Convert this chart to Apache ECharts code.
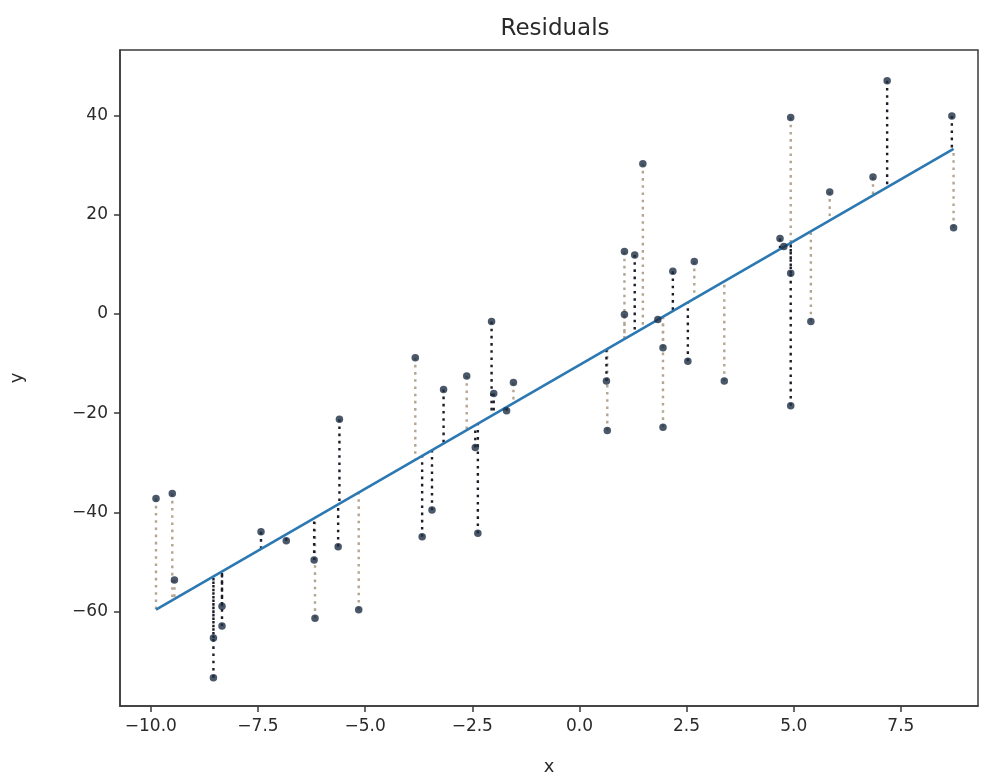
<!DOCTYPE html>
<html>
<head>
<meta charset="utf-8">
<script src="https://cdn.jsdelivr.net/npm/echarts@6/dist/echarts.min.js"></script>
<style>
html,body{margin:0;padding:0;background:#ffffff;}
#chart{width:984px;height:781px;}
</style>
</head>
<body>
<div id="chart"></div>
<script>
// Points whose residual line is drawn dark
const setAX = [-8.34, -8.34, -8.54, -8.54, -7.43, -6.84, -6.19, -5.60, -5.63, -3.67, -3.17, -3.44, -2.43, -2.37, -2.05, -2.00, -1.70, 0.63, 1.29, 1.83, 2.18, 2.53, 4.68, 4.77, 4.93, 4.93, 7.18, 8.69];
const setAY = [-58.9, -62.9, -65.3, -73.3, -43.9, -45.7, -49.6, -21.2, -46.9, -44.9, -15.2, -39.5, -26.9, -44.2, -1.5, -16.0, -19.5, -13.5, 11.9, -1.1, 8.6, -9.5, 15.2, 13.6, 8.2, -18.5, 47.0, 39.9];
// Points whose residual line is drawn light
const setBX = [-9.88, -9.50, -9.45, -6.17, -5.15, -3.83, -2.63, -1.54, 0.65, 1.05, 1.05, 1.48, 1.95, 1.95, 2.68, 3.38, 4.93, 5.40, 5.84, 6.85, 8.73];
const setBY = [-37.2, -36.2, -53.6, -61.3, -59.6, -8.8, -12.5, -13.8, -23.5, 12.6, -0.1, 30.3, -6.8, -22.8, 10.6, -13.5, 39.6, -1.5, 24.6, 27.6, 17.4];

// Fitted regression line
const fitSlope = 4.99;
const fitIntercept = -10.3;
const fitRangeX = [-9.88, 8.73];

const xTicks = [-10, -7.5, -5, -2.5, 0, 2.5, 5, 7.5];
const yTicks = [-60, -40, -20, 0, 20, 40];

const FONT = 'DejaVu Sans';
const AXIS_COLOR = '#3a3a3a';
const TEXT_COLOR = '#2a2a2a';

function pairs(xs, ys) { return xs.map((x, i) => [x, ys[i]]); }
function fitted(x) { return fitIntercept + fitSlope * x; }

function residualRender(color) {
  return function (params, api) {
    const x = api.value(0), y = api.value(1);
    const p1 = api.coord([x, y]);
    const p2 = api.coord([x, fitted(x)]);
    return {
      type: 'line',
      shape: { x1: p1[0], y1: p1[1], x2: p2[0], y2: p2[1] },
      style: { stroke: color, lineWidth: 2.4, lineDash: [2.6, 4.6], fill: null }
    };
  };
}

function fmtMinus(v, digits) {
  const s = digits == null ? String(v) : v.toFixed(digits);
  return s.replace('-', '\u2212');
}

const chart = echarts.init(document.getElementById('chart'), null, { renderer: 'canvas' });
chart.setOption({
  animation: false,
  backgroundColor: '#ffffff',
  title: {
    text: 'Residuals',
    left: 550,
    top: 13,
    textAlign: 'center',
    textStyle: { fontFamily: FONT, fontSize: 23, fontWeight: 'normal', color: TEXT_COLOR }
  },
  grid: {
    left: 117, right: 6, top: 50, bottom: 71,
    show: true, borderColor: AXIS_COLOR, borderWidth: 1.5, backgroundColor: 'transparent'
  },
  xAxis: {
    type: 'value',
    min: -10.72, max: 9.3,
    name: 'x', nameLocation: 'middle', nameGap: 52,
    nameTextStyle: { fontFamily: FONT, fontSize: 18, color: TEXT_COLOR },
    splitLine: { show: false },
    axisLine: { show: true, onZero: false, lineStyle: { color: AXIS_COLOR, width: 1.5 } },
    axisTick: { show: true, customValues: xTicks, length: 6, lineStyle: { color: AXIS_COLOR, width: 1.5 } },
    axisLabel: { customValues: xTicks, formatter: v => fmtMinus(v, 1), fontFamily: FONT, fontSize: 17, color: TEXT_COLOR, margin: 12 }
  },
  yAxis: {
    type: 'value',
    min: -79, max: 53.2,
    name: 'y', nameLocation: 'middle', nameGap: 94,
    nameTextStyle: { fontFamily: FONT, fontSize: 18, color: TEXT_COLOR },
    splitLine: { show: false },
    axisLine: { show: true, onZero: false, lineStyle: { color: AXIS_COLOR, width: 1.5 } },
    axisTick: { show: true, customValues: yTicks, length: 6, lineStyle: { color: AXIS_COLOR, width: 1.5 } },
    axisLabel: { customValues: yTicks, formatter: v => fmtMinus(v), fontFamily: FONT, fontSize: 17, color: TEXT_COLOR, margin: 12 }
  },
  series: [
    {
      type: 'custom', name: 'residual-light', clip: true, z: 2,
      renderItem: residualRender('#b3a592'),
      encode: { x: 0, y: 1 },
      data: pairs(setBX, setBY)
    },
    {
      type: 'custom', name: 'residual-dark', clip: true, z: 3,
      renderItem: residualRender('#1c1c28'),
      encode: { x: 0, y: 1 },
      data: pairs(setAX, setAY)
    },
    {
      type: 'line', name: 'fit', z: 4,
      data: fitRangeX.map(x => [x, fitted(x)]),
      symbol: 'none',
      lineStyle: { color: '#2b78b2', width: 2.6 }
    },
    {
      type: 'scatter', name: 'data', z: 5,
      symbol: 'circle', symbolSize: 7.5,
      itemStyle: { color: '#1d2e44' },
      data: pairs(setAX, setAY).concat(pairs(setBX, setBY))
    }
  ]
});
</script>
</body>
</html>
